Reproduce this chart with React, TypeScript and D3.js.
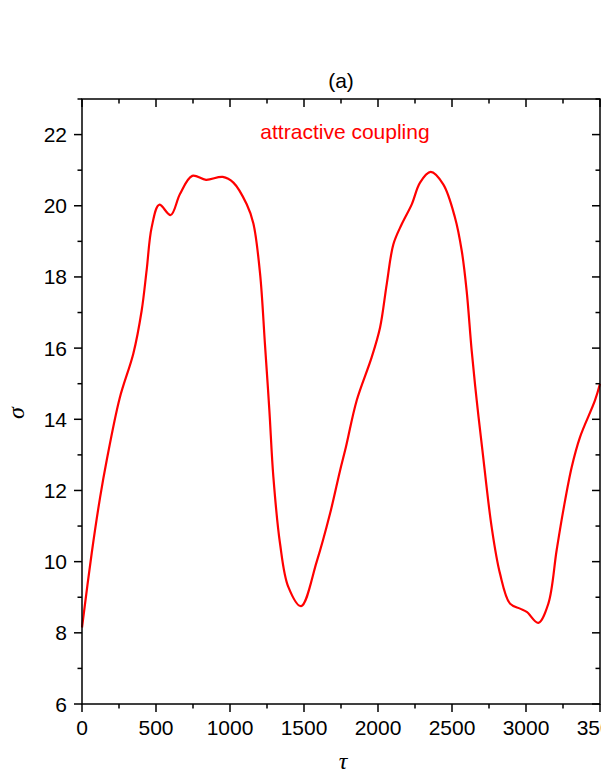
import { useEffect, useRef } from 'react';
import * as d3 from 'd3';

// values
const tau = [0, 66, 122, 167, 255, 347, 403, 437, 471, 522, 599, 662, 745, 838, 951, 1023, 1113, 1158, 1203, 1236, 1266, 1293, 1338, 1394, 1480, 1586, 1676, 1743, 1782, 1856, 1957, 2014, 2059, 2104, 2160, 2228, 2284, 2356, 2441, 2520, 2566, 2599, 2633, 2667, 2705, 2768, 2824, 2892, 2960, 3005, 3083, 3151, 3207, 3252, 3309, 3365, 3466, 3500];
const sigma = [8.15, 10.25, 11.8, 12.85, 14.6, 15.85, 17.05, 18.2, 19.4, 20.03, 19.74, 20.33, 20.84, 20.73, 20.81, 20.65, 20.04, 19.5, 18.1, 16.12, 14.25, 12.38, 10.51, 9.29, 8.75, 10.0, 11.35, 12.55, 13.2, 14.53, 15.74, 16.58, 17.8, 18.92, 19.48, 20.04, 20.65, 20.95, 20.6, 19.67, 18.73, 17.61, 15.93, 14.53, 13.15, 10.97, 9.67, 8.82, 8.68, 8.59, 8.28, 8.82, 10.32, 11.44, 12.66, 13.5, 14.53, 15.0];
const xTicks = [0, 500, 1000, 1500, 2000, 2500, 3000, 3500];
const xMinor = [250, 750, 1250, 1750, 2250, 2750, 3250];
const yTicks = [6, 8, 10, 12, 14, 16, 18, 20, 22];
const yMinor = [7, 9, 11, 13, 15, 17, 19, 21, 23];

const SigmaChart = ({ w, h }: { w: number; h: number }) => {
  const svgRef = useRef<SVGSVGElement>(null);

  useEffect(() => {
    const margin = { top: 99, right: 1, bottom: 74, left: 82 };
    const font = 'Liberation Sans, Arial, sans-serif';

    const x = d3.scaleLinear().domain([0, 3500]).range([margin.left, w - margin.right]);
    const y = d3.scaleLinear().domain([6, 23]).range([h - margin.bottom, margin.top]);

    d3.select(svgRef.current).selectAll('*').remove();
    const svg = d3.select(svgRef.current).attr('width', w).attr('height', h);

    const x0 = x.range()[0], x1 = x.range()[1];
    const y0 = y.range()[0], y1 = y.range()[1];

    // the curve
    const pts = tau.map((t, i) => [t, sigma[i]] as [number, number]);
    const line = d3.line<[number, number]>()
      .x(d => x(d[0]))
      .y(d => y(d[1]))
      .curve(d3.curveCatmullRom.alpha(0.5));

    svg.append('path')
      .datum(pts)
      .attr('fill', 'none')
      .attr('stroke', '#ff0000')
      .attr('stroke-width', 2.2)
      .attr('d', line);

    // frame
    const ax = svg.append('g').attr('stroke', '#000').attr('stroke-width', 1.5);
    ax.append('rect')
      .attr('x', x0).attr('y', y1)
      .attr('width', x1 - x0).attr('height', y0 - y1)
      .attr('fill', 'none');

    // bottom (outward) and top (inward) ticks
    xTicks.forEach(t => {
      ax.append('line').attr('x1', x(t)).attr('x2', x(t)).attr('y1', y0).attr('y2', y0 + 8);
      ax.append('line').attr('x1', x(t)).attr('x2', x(t)).attr('y1', y1).attr('y2', y1 + 8);
    });
    xMinor.forEach(t => {
      ax.append('line').attr('x1', x(t)).attr('x2', x(t)).attr('y1', y0).attr('y2', y0 + 4.5);
      ax.append('line').attr('x1', x(t)).attr('x2', x(t)).attr('y1', y1).attr('y2', y1 + 4.5);
    });
    // left (outward) and right (inward) ticks
    yTicks.forEach(v => {
      ax.append('line').attr('x1', x0).attr('x2', x0 - 8).attr('y1', y(v)).attr('y2', y(v));
      ax.append('line').attr('x1', x1).attr('x2', x1 - 8).attr('y1', y(v)).attr('y2', y(v));
    });
    yMinor.forEach(v => {
      ax.append('line').attr('x1', x0).attr('x2', x0 - 4.5).attr('y1', y(v)).attr('y2', y(v));
      ax.append('line').attr('x1', x1).attr('x2', x1 - 4.5).attr('y1', y(v)).attr('y2', y(v));
    });

    // tick labels
    svg.append('g').selectAll('text')
      .data(xTicks)
      .join('text')
      .attr('x', d => x(d))
      .attr('y', y0 + 31)
      .attr('text-anchor', 'middle')
      .attr('font-family', font)
      .attr('font-size', 21)
      .text(d => d);

    svg.append('g').selectAll('text')
      .data(yTicks)
      .join('text')
      .attr('x', x0 - 15)
      .attr('y', d => y(d) + 7.5)
      .attr('text-anchor', 'end')
      .attr('font-family', font)
      .attr('font-size', 21)
      .text(d => d);

    // title and annotation
    svg.append('text')
      .attr('x', (x0 + x1) / 2)
      .attr('y', 88)
      .attr('text-anchor', 'middle')
      .attr('font-family', font)
      .attr('font-size', 21)
      .text('(a)');

    svg.append('text')
      .attr('x', 345)
      .attr('y', 139)
      .attr('text-anchor', 'middle')
      .attr('font-family', font)
      .attr('font-size', 21)
      .attr('fill', '#ff0000')
      .text('attractive coupling');

    // axis labels
    svg.append('text')
      .attr('x', 343)
      .attr('y', 769)
      .attr('text-anchor', 'middle')
      .attr('font-family', 'Liberation Serif, Times New Roman, serif')
      .attr('font-style', 'italic')
      .attr('font-size', 24)
      .text('τ');

    svg.append('text')
      .attr('transform', 'translate(24, 413) rotate(-90)')
      .attr('text-anchor', 'middle')
      .attr('font-family', 'Liberation Serif, Times New Roman, serif')
      .attr('font-style', 'italic')
      .attr('font-size', 24)
      .text('σ');
  }, [w, h]);

  return <svg ref={svgRef} style={{ position: 'absolute', left: 0, top: 0 }}></svg>;
};

export default function App() {
  return <SigmaChart w={601} h={778} />;
}
